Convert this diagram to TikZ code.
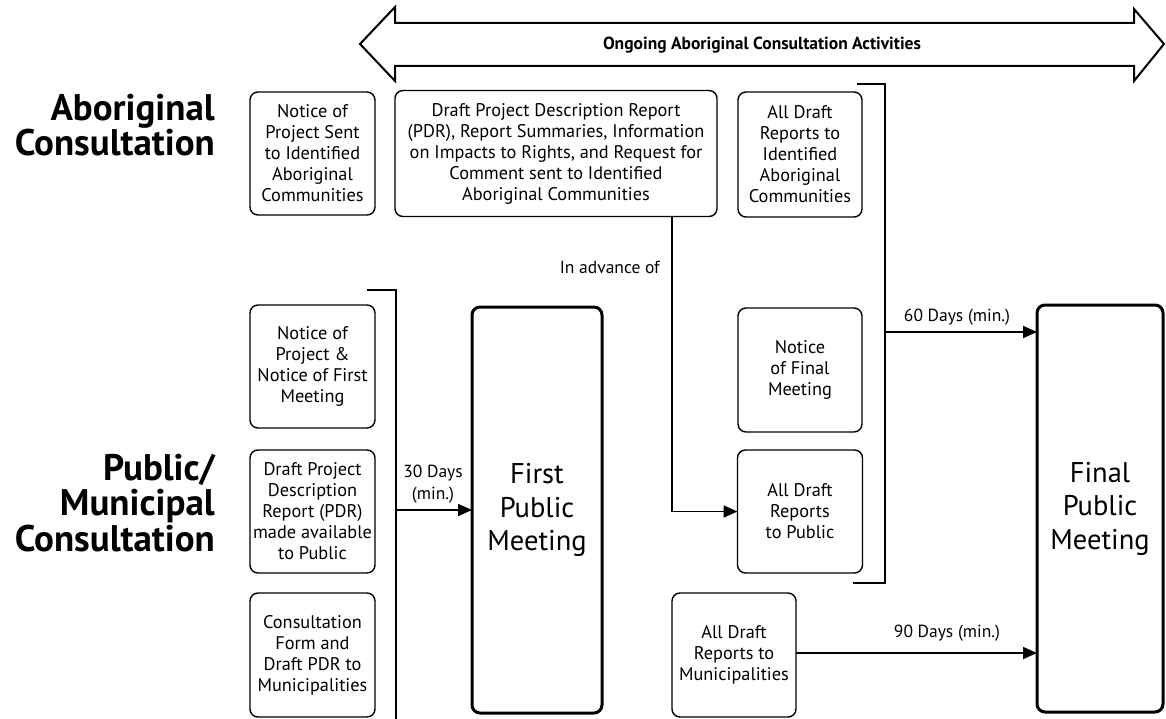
\documentclass[tikz,border=0pt]{standalone}
\usepackage{fontspec}
\setmainfont{PT Sans}
\usetikzlibrary{arrows.meta}
\tikzset{
  smallbox/.style={draw, line width=1.4pt, rounded corners=8pt, inner sep=0pt, outer sep=0pt,
    align=center, font=\fontsize{18.3}{21}\selectfont},
  bigbox/.style={draw, line width=3pt, rounded corners=8pt, inner sep=0pt, outer sep=0pt,
    align=center, font=\fontsize{28.5}{33.5}\selectfont},
  side/.style={inner sep=0pt, align=right, anchor=east, font=\fontsize{37}{35.5}\selectfont\bfseries},
  lbl/.style={inner sep=0pt, align=center, font=\fontsize{17.5}{22}\selectfont},
  conn/.style={line width=1.8pt, -{Triangle[length=14pt,width=12pt]}},
  brk/.style={line width=1.8pt}
}
\begin{document}
\begin{tikzpicture}[x=1pt,y=-1pt]
\useasboundingbox (0,0) rectangle (1166,719);
% ongoing double arrow
\draw[line width=2pt, fill=white, line join=miter]
  (360,44) -- (395,7) -- (395,23) -- (1134,23) -- (1134,9) -- (1164,44)
  -- (1134,81) -- (1134,66) -- (395,66) -- (395,81) -- cycle;
\node[inner sep=0pt, font=\fontsize{17.5}{20}\selectfont\bfseries] (ongo) at (762,45) {Ongoing Aboriginal Consultation Activities};

% side labels
\node[side] (sideA) at (215,125) {Aboriginal\\Consultation};
\node[side] (sideP) at (215,503) {Public/\\Municipal\\Consultation};

% aboriginal row
\node[smallbox, minimum width=125pt, minimum height=123pt] (a1) at (312.5,153.5)
  {Notice of\\Project Sent\\to Identified\\Aboriginal\\Communities};
\node[smallbox, minimum width=322pt, minimum height=126pt] (a2) at (556,153.5)
  {Draft Project Description Report\\(PDR), Report Summaries, Information\\on Impacts to Rights, and Request for\\Comment sent to Identified\\Aboriginal Communities};
\node[smallbox, minimum width=124pt, minimum height=125pt] (a3) at (800,154.5)
  {All Draft\\Reports to\\Identified\\Aboriginal\\Communities};

% public column 1
\node[smallbox, minimum width=125pt, minimum height=123pt] (p1) at (312.5,366.5)
  {Notice of\\Project \&\\Notice of First\\Meeting};
\node[smallbox, minimum width=125pt, minimum height=123pt] (p2) at (312.5,511.5)
  {Draft Project\\Description\\Report (PDR)\\made available\\to Public};
\node[smallbox, minimum width=125pt, minimum height=124pt] (p3) at (312.5,655)
  {Consultation\\Form and\\Draft PDR to\\Municipalities};

\node[bigbox, minimum width=130pt, minimum height=406pt] (fpm) at (537,510) {First\\Public\\Meeting};

% right column
\node[smallbox, minimum width=124pt, minimum height=124pt] (nfm) at (800,370)
  {Notice\\of Final\\Meeting};
\node[smallbox, minimum width=125pt, minimum height=123pt] (adp) at (800,511.5)
  {All Draft\\Reports\\to Public};
\node[smallbox, minimum width=124pt, minimum height=124pt] (adm) at (734,655)
  {All Draft\\Reports to\\Municipalities};

\node[bigbox, minimum width=126pt, minimum height=407pt] (final) at (1100,508.5) {Final\\Public\\Meeting};

% left bracket
\coordinate (bl1) at (367,290);
\coordinate (bl2) at (396,290);
\coordinate (bl3) at (396,719);
\draw[brk] (bl1) -- (bl2) -- (bl3);
\coordinate (blA) at (396,510);
\draw[conn] (blA) -- (fpm.west |- blA);
\node[lbl] (d30) at (433,484) {30 Days\\(min.)};

% right bracket
\coordinate (br1) at (857,84);
\coordinate (br2) at (885,84);
\coordinate (br3) at (885,583);
\coordinate (br4) at (853,583);
\draw[brk] (br1) -- (br2) -- (br3) -- (br4);
\coordinate (brA) at (885,332);
\draw[conn] (brA) -- (final.west |- brA);
\node[lbl] (d60) at (957,317) {60 Days (min.)};

% in advance of
\coordinate (iaTop) at (672,217);
\draw[conn] (iaTop) -- (672,511.5) -- (adp.west);
\node[lbl, anchor=east] (ia) at (660,267) {In advance of};

% 90 days
\draw[conn] (adm.east |- 0,653) -- (final.west |- 0,653);
\node[lbl] (d90) at (947,633) {90 Days (min.)};
\end{tikzpicture}
\end{document}
